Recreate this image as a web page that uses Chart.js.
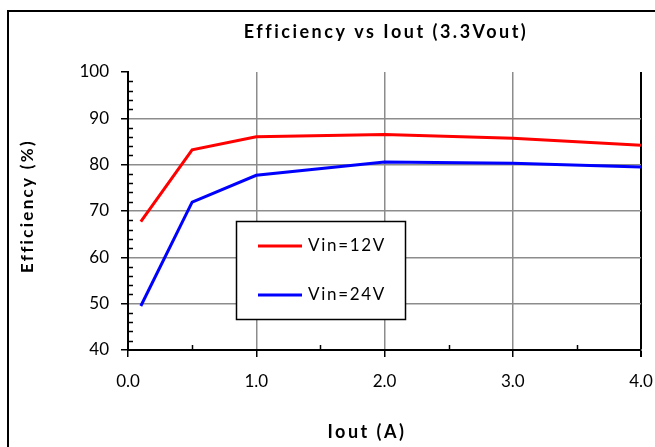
<!DOCTYPE html>
<html>
<head>
<meta charset="utf-8">
<script src="https://cdn.jsdelivr.net/npm/chart.js@4/dist/chart.umd.min.js"></script>
<style>
  html, body { margin: 0; padding: 0; background: #fff; overflow: hidden; }
  canvas { display: block; }
</style>
</head>
<body>
<canvas id="effChart" width="655" height="447"></canvas>
<script>
// Datos
const ioutValues = [0.1, 0.5, 1.0, 2.0, 3.0, 4.0];
const eff12V = [67.7, 83.2, 86.0, 86.5, 85.7, 84.2];
const eff24V = [49.5, 71.9, 77.7, 80.6, 80.3, 79.5];
const seriesNames = ['Vin=12V', 'Vin=24V'];
const seriesColors = ['#ff0000', '#0000ff'];
const xTickValues = [0, 1, 2, 3, 4];
const yTickValues = [40, 50, 60, 70, 80, 90, 100];

const FONT = 'Lato, "Liberation Sans", sans-serif';

function toPoints(xs, ys) {
    return xs.map((x, i) => ({ x: x, y: ys[i] }));
}

// Plugin: borde, ticks menores, títulos y leyenda
const decorPlugin = {
    id: 'decor',
    beforeDraw(chart) {
        const ctx = chart.ctx;
        ctx.save();
        ctx.fillStyle = '#fff';
        ctx.fillRect(0, 0, chart.width, chart.height);
        ctx.strokeStyle = '#000';
        ctx.lineWidth = 2;
        ctx.strokeRect(8, 11, 800, 600);
        ctx.restore();
    },
    afterDraw(chart) {
        const { ctx, chartArea: a, scales } = chart;
        const xs = scales.x, ys = scales.y;
        ctx.save();

        // Ticks menores
        ctx.strokeStyle = '#000';
        ctx.lineWidth = 1.5;
        for (let v = 42; v < 100; v += 2) {
            if (v % 10 === 0) continue;
            const py = Math.round(ys.getPixelForValue(v)) + 0.5;
            ctx.beginPath();
            ctx.moveTo(a.left, py);
            ctx.lineTo(a.left + 5, py);
            ctx.stroke();
        }
        for (let v = 0.5; v < 4; v += 1) {
            const px = Math.round(xs.getPixelForValue(v)) + 0.5;
            ctx.beginPath();
            ctx.moveTo(px, a.bottom);
            ctx.lineTo(px, a.bottom - 5);
            ctx.stroke();
        }

        // Título
        ctx.fillStyle = '#000';
        ctx.textAlign = 'center';
        ctx.textBaseline = 'middle';
        ctx.letterSpacing = '2.5px';
        ctx.font = 'bold 18px ' + FONT;
        ctx.fillText('Efficiency vs Iout (3.3Vout)', 386, 32);

        // Título eje X
        ctx.letterSpacing = '2.5px';
        ctx.font = 'bold 18px ' + FONT;
        ctx.fillText('Iout (A)', 367, 432);

        // Título eje Y
        ctx.save();
        ctx.translate(28, 206);
        ctx.rotate(-Math.PI / 2);
        ctx.letterSpacing = '2.3px';
        ctx.font = 'bold 17px ' + FONT;
        ctx.fillText('Efficiency (%)', 0, 0);
        ctx.restore();

        // Leyenda
        const bx = 236, by = 221, bw = 169, bh = 98;
        ctx.fillStyle = '#fff';
        ctx.fillRect(bx, by, bw, bh);
        ctx.strokeStyle = '#000';
        ctx.lineWidth = 1.5;
        ctx.strokeRect(bx + 0.5, by + 0.5, bw, bh);
        ctx.letterSpacing = '1.7px';
        ctx.font = '17px ' + FONT;
        ctx.textAlign = 'left';
        seriesNames.forEach((name, i) => {
            const ly = by + 25 + i * 49;
            ctx.strokeStyle = seriesColors[i];
            ctx.lineWidth = 3;
            ctx.beginPath();
            ctx.moveTo(bx + 22, ly);
            ctx.lineTo(bx + 66, ly);
            ctx.stroke();
            ctx.fillStyle = '#000';
            ctx.fillText(name, bx + 72, ly);
        });
        ctx.restore();
    }
};

new Chart(document.getElementById('effChart'), {
    type: 'scatter',
    data: {
        datasets: [
            {
                label: seriesNames[0],
                data: toPoints(ioutValues, eff12V),
                borderColor: seriesColors[0],
                backgroundColor: seriesColors[0],
                showLine: true,
                borderWidth: 3,
                pointRadius: 0,
                tension: 0
            },
            {
                label: seriesNames[1],
                data: toPoints(ioutValues, eff24V),
                borderColor: seriesColors[1],
                backgroundColor: seriesColors[1],
                showLine: true,
                borderWidth: 3,
                pointRadius: 0,
                tension: 0
            }
        ]
    },
    options: {
        responsive: false,
        animation: false,
        layout: { padding: { left: 0, right: 14, top: 72, bottom: 0 } },
        plugins: {
            legend: { display: false },
            title: { display: false },
            tooltip: { enabled: false }
        },
        scales: {
            x: {
                type: 'linear',
                min: 0,
                max: 4,
                afterFit(scale) {
                    scale.height = 97;
                    scale.paddingLeft = 0;
                    scale.paddingRight = 0;
                },
                afterBuildTicks(scale) { scale.ticks = xTickValues.map(v => ({ value: v })); },
                ticks: {
                    color: '#000',
                    padding: 14,
                    font: { family: FONT, size: 17 },
                    callback: v => Number(v).toFixed(1)
                },
                grid: {
                    color: c => (c.tick && c.tick.value === 4) ? '#000' : '#8c8c8c',
                    lineWidth: c => (c.tick && c.tick.value === 4) ? 2 : 1.5,
                    tickColor: '#000',
                    tickLength: 7
                },
                border: { color: '#000', width: 2 }
            },
            y: {
                min: 40,
                max: 100,
                afterFit(scale) {
                    scale.width = 128;
                    scale.paddingTop = 0;
                    scale.paddingBottom = 0;
                },
                afterBuildTicks(scale) { scale.ticks = yTickValues.map(v => ({ value: v })); },
                ticks: {
                    color: '#000',
                    padding: 12,
                    font: { family: FONT, size: 17 }
                },
                grid: {
                    color: c => (c.tick && c.tick.value === 100) ? 'rgba(0,0,0,0)' : '#8c8c8c',
                    lineWidth: 1.5,
                    tickColor: '#000',
                    tickLength: 7
                },
                border: { color: '#000', width: 2 }
            }
        }
    },
    plugins: [decorPlugin]
});
</script>
</body>
</html>
